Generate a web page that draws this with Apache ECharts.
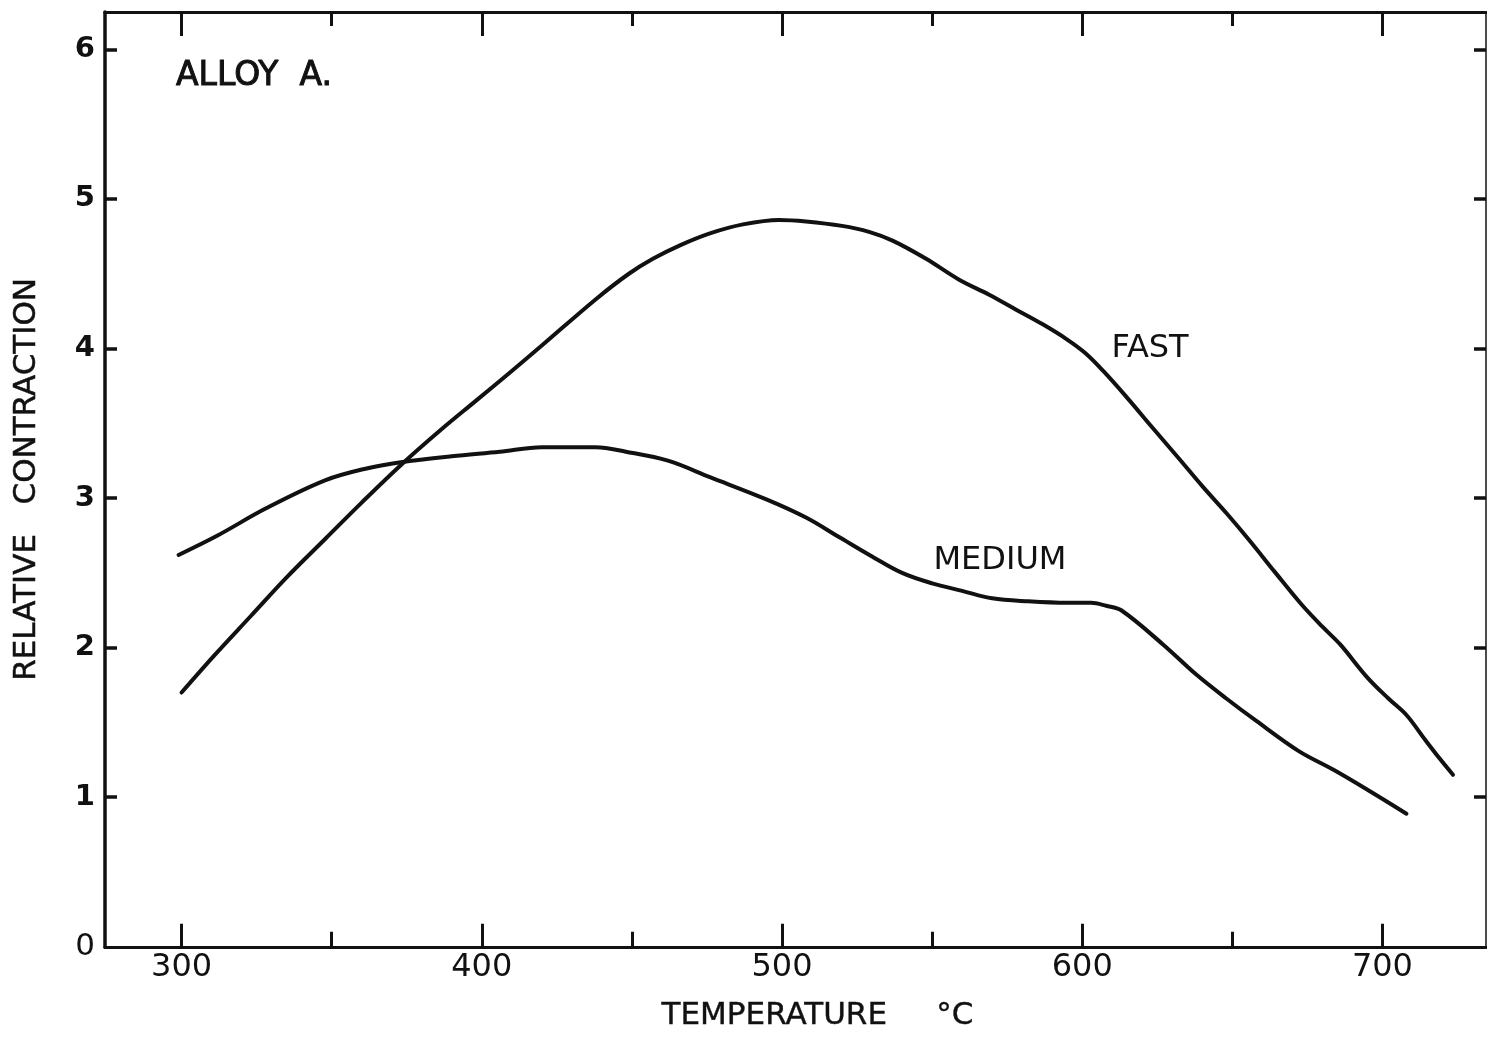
<!DOCTYPE html>
<html>
<head>
<meta charset="utf-8">
<title>Alloy A - relative contraction</title>
<script src="https://cdn.jsdelivr.net/npm/echarts@6/dist/echarts.min.js"></script>
<style>
  html, body { margin: 0; padding: 0; background: #fff; }
  #chart { width: 1487px; height: 1037px; }
</style>
</head>
<body>
<div id="chart"></div>
<script>
// Tick positions
const tempMajorTicks = [300, 400, 500, 600, 700];
const tempMinorTicks = [350, 450, 550, 650];
const contractionTicks = [0, 1, 2, 3, 4, 5, 6];
const contractionInnerTicks = [1, 2, 3, 4, 5, 6];

// FAST cooling curve (temperature °C, relative contraction)
const fastTemp = [300, 311, 323, 335, 348, 360, 373, 386, 398, 410, 420, 438, 449, 457, 466, 476, 487, 499, 508, 520,
  529, 537, 548, 559, 569, 578, 587, 595, 601, 607, 615, 623, 632, 640, 648, 656, 664, 673, 680, 686,
  695, 702, 708, 714, 719, 723.5];
const fastContraction = [1.70, 1.95, 2.21, 2.47, 2.73, 2.97, 3.22, 3.45, 3.65, 3.85, 4.02, 4.33, 4.50, 4.60, 4.69, 4.77, 4.83, 4.86, 4.85, 4.82,
  4.78, 4.72, 4.60, 4.46, 4.36, 4.26, 4.16, 4.06, 3.97, 3.85, 3.67, 3.48, 3.27, 3.08, 2.90, 2.71, 2.51, 2.29, 2.14, 2.02,
  1.80, 1.66, 1.55, 1.39, 1.26, 1.15];

// MEDIUM cooling curve
const mediumTemp = [299, 312, 328, 348, 362, 373, 390, 406, 420, 438, 448, 462, 476, 495, 508, 519, 530, 540, 550, 560,
  570, 582, 595, 603, 608, 613, 627, 638, 648, 658, 672, 684, 695, 708];
const mediumContraction = [2.62, 2.75, 2.93, 3.12, 3.20, 3.24, 3.28, 3.31, 3.34, 3.34, 3.31, 3.25, 3.14, 2.99, 2.87, 2.74, 2.61, 2.50, 2.43, 2.38,
  2.33, 2.31, 2.30, 2.30, 2.28, 2.25, 2.02, 1.82, 1.66, 1.51, 1.31, 1.18, 1.05, 0.89];

// Curve captions, placed in data space
const fastCaptionAt = [622.6, 4.0];
const mediumCaptionAt = [572.6, 2.58];

const FONT = 'DejaVu Sans';
const INK = '#111111';
const X_MIN = 274.5, X_MAX = 734.5, Y_MIN = 0, Y_MAX = 6.25;

const zip = (xs, ys) => xs.map((x, i) => [x, ys[i]]);

function xFrame(position, ticks, tickLen, withLabels) {
  return {
    type: 'value', position, min: X_MIN, max: X_MAX,
    axisLine: { show: true, onZero: false, lineStyle: { color: INK, width: 3 } },
    axisTick: { show: true, inside: true, length: tickLen, customValues: ticks,
                lineStyle: { color: INK, width: 3 } },
    axisLabel: withLabels
      ? { show: true, customValues: ticks, margin: 5, color: INK,
          fontFamily: FONT, fontSize: 32 }
      : { show: false },
    splitLine: { show: false }
  };
}

function yFrame(position, withLabels) {
  return {
    type: 'value', position, min: Y_MIN, max: Y_MAX,
    axisLine: { show: true, onZero: false, lineStyle: { color: INK, width: position === 'left' ? 3.5 : 1.5 } },
    axisTick: { show: true, inside: true, length: 12, customValues: contractionInnerTicks,
                lineStyle: { color: INK, width: 3.5 } },
    axisLabel: withLabels
      ? { show: true, customValues: contractionTicks, margin: 10, color: INK,
          formatter: v => v === 0 ? '{z|0}' : '{b|' + v + '}',
          rich: {
            z: { fontFamily: FONT, fontSize: 31, color: INK },
            b: { fontFamily: FONT, fontSize: 29, fontWeight: 'bold', color: INK }
          } }
      : { show: false },
    splitLine: { show: false }
  };
}

const captionStyle = {
  show: true, position: 'inside', color: INK, fontFamily: FONT, fontSize: 32
};

const chart = echarts.init(document.getElementById('chart'), null, { renderer: 'canvas' });

const xAxes = [
  xFrame('bottom', tempMajorTicks, 23, true),
  xFrame('bottom', tempMinorTicks, 15, false),
  xFrame('top', tempMajorTicks, 24, false),
  xFrame('top', tempMinorTicks, 14, false)
];
xAxes[0].name = 'TEMPERATURE     °C';
xAxes[0].nameLocation = 'middle';
xAxes[0].nameGap = 54;
xAxes[0].nameTextStyle = { color: INK, fontFamily: FONT, fontSize: 31, padding: [0, 0, 0, 44],
                           textBorderColor: INK, textBorderWidth: 0.4 };

const yAxes = [yFrame('left', true), yFrame('right', false)];
yAxes[0].name = 'RELATIVE   CONTRACTION';
yAxes[0].nameLocation = 'middle';
yAxes[0].nameGap = 63;
yAxes[0].nameRotate = 90;
yAxes[0].nameTextStyle = { color: INK, fontFamily: FONT, fontSize: 31,
                           textBorderColor: INK, textBorderWidth: 0.5 };

chart.setOption({
  backgroundColor: '#ffffff',
  animation: false,
  title: {
    text: 'ALLOY  A.',
    left: 176, top: 60, padding: 0,
    textStyle: { color: INK, fontFamily: FONT, fontSize: 33, fontWeight: 'normal',
                 textBorderColor: INK, textBorderWidth: 1 }
  },
  grid: { left: 105, top: 12, width: 1381, height: 938, containLabel: false },
  xAxis: xAxes,
  yAxis: yAxes,
  series: [
    {
      name: 'FAST', type: 'line', xAxisIndex: 0, yAxisIndex: 0,
      data: zip(fastTemp, fastContraction),
      showSymbol: false, smooth: 0.35,
      lineStyle: { color: INK, width: 4, cap: 'round', join: 'round' },
      markPoint: {
        symbol: 'circle', symbolSize: 1, itemStyle: { color: 'rgba(0,0,0,0)' },
        label: captionStyle,
        data: [{ coord: fastCaptionAt, value: 'FAST', label: { formatter: 'FAST' } }]
      }
    },
    {
      name: 'MEDIUM', type: 'line', xAxisIndex: 0, yAxisIndex: 0,
      data: zip(mediumTemp, mediumContraction),
      showSymbol: false, smooth: 0.35,
      lineStyle: { color: INK, width: 4, cap: 'round', join: 'round' },
      markPoint: {
        symbol: 'circle', symbolSize: 1, itemStyle: { color: 'rgba(0,0,0,0)' },
        label: captionStyle,
        data: [{ coord: mediumCaptionAt, value: 'MEDIUM', label: { formatter: 'MEDIUM' } }]
      }
    }
  ]
});
</script>
</body>
</html>
